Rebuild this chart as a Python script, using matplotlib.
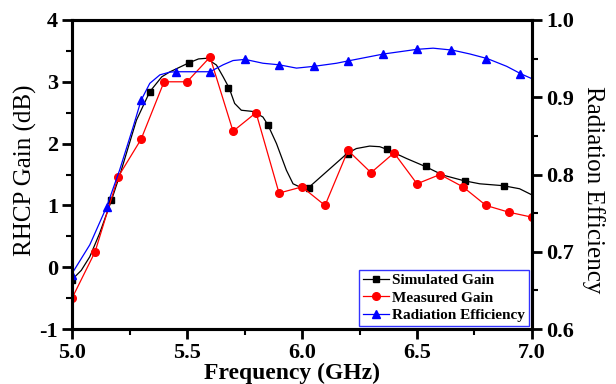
import matplotlib
matplotlib.use('Agg')
import matplotlib.pyplot as plt
from matplotlib.lines import Line2D
from matplotlib.ticker import MultipleLocator

# simulated gain: traced curve + marker points
sim_curve_f = [5.0, 5.04, 5.077, 5.12, 5.171, 5.21, 5.28, 5.338, 5.39, 5.425, 5.51, 5.55,
               5.584, 5.628, 5.657, 5.683, 5.707, 5.736, 5.787, 5.83, 5.852, 5.889, 5.932,
               5.961, 5.99, 6.026, 6.196, 6.236, 6.294, 6.338, 6.367, 6.454, 6.536, 6.613,
               6.704, 6.773, 6.874, 6.946, 7.0]
sim_curve_g = [-0.2, -0.05, 0.17, 0.55, 1.08, 1.52, 2.38, 2.84, 3.08, 3.16, 3.31, 3.37,
               3.38, 3.27, 3.08, 2.90, 2.65, 2.54, 2.52, 2.43, 2.30, 2.0, 1.57,
               1.35, 1.30, 1.28, 1.84, 1.92, 1.96, 1.95, 1.91, 1.76, 1.63, 1.49,
               1.40, 1.35, 1.32, 1.27, 1.17]
sim_f = [5.0, 5.17, 5.34, 5.51, 5.68, 5.85, 6.03, 6.20, 6.37, 6.54, 6.71, 6.88]
sim_g = [-0.2, 1.08, 2.84, 3.31, 2.90, 2.30, 1.28, 1.84, 1.91, 1.64, 1.39, 1.32]

# measured gain
meas_f = [5.0, 5.1, 5.2, 5.3, 5.4, 5.5, 5.6, 5.7, 5.8, 5.9, 6.0, 6.1, 6.2, 6.3, 6.4,
          6.5, 6.6, 6.7, 6.8, 6.9, 7.0]
meas_g = [-0.5, 0.25, 1.46, 2.07, 3.0, 3.0, 3.4, 2.2, 2.5, 1.2, 1.3, 1.0, 1.89, 1.53,
          1.85, 1.35, 1.5, 1.3, 1.0, 0.89, 0.81]

# radiation efficiency: traced curve + marker points
eff_curve_f = [5.0, 5.077, 5.15, 5.207, 5.266, 5.30, 5.338, 5.382, 5.425, 5.45, 5.60,
               5.657, 5.70, 5.752, 5.83, 5.90, 5.976, 6.052, 6.15, 6.20, 6.355, 6.50,
               6.57, 6.654, 6.73, 6.806, 6.89, 6.954, 7.0]
eff_curve_v = [0.672, 0.709, 0.758, 0.806, 0.862, 0.896, 0.918, 0.929, 0.9325, 0.933, 0.933,
               0.942, 0.9475, 0.949, 0.944, 0.942, 0.9377, 0.940, 0.944, 0.947, 0.956, 0.962,
               0.9635, 0.961, 0.956, 0.950, 0.940, 0.930, 0.924]
eff_f = [5.0, 5.15, 5.30, 5.45, 5.60, 5.75, 5.90, 6.05, 6.20, 6.35, 6.50, 6.65, 6.80, 6.95]
eff_v = [0.670, 0.758, 0.896, 0.933, 0.933, 0.949, 0.942, 0.940, 0.947, 0.956, 0.962,
         0.961, 0.950, 0.930]

labels = ['Simulated Gain', 'Measured Gain', 'Radiation Efficiency']

plt.rcParams['font.family'] = 'Liberation Serif'
plt.rcParams['axes.unicode_minus'] = False

fig = plt.figure(figsize=(6.16, 3.84), dpi=100)
ax = fig.add_axes([0.117, 0.143, 0.7466, 0.805])
ax2 = ax.twinx()

ax.plot(sim_curve_f, sim_curve_g, color='black', lw=0.9, zorder=2)
ax.plot(sim_f, sim_g, 's', color='black', ms=5, zorder=3)
ax.plot(meas_f, meas_g, '-o', color='red', lw=0.9, ms=5.5, zorder=4)
ax2.plot(eff_curve_f, eff_curve_v, color='blue', lw=0.9)
ax2.plot(eff_f, eff_v, '^', color='blue', ms=6)

ax.set_xlim(5.0, 7.0)
ax.set_ylim(-1, 4)
ax2.set_ylim(0.6, 1.0)
ax.xaxis.set_major_locator(MultipleLocator(0.5))
ax.xaxis.set_minor_locator(MultipleLocator(0.25))
ax.yaxis.set_major_locator(MultipleLocator(1))
ax.yaxis.set_minor_locator(MultipleLocator(0.5))
ax2.yaxis.set_major_locator(MultipleLocator(0.1))
ax2.yaxis.set_minor_locator(MultipleLocator(0.05))
ax.xaxis.set_major_formatter('{x:.1f}')
ax2.yaxis.set_major_formatter('{x:.1f}')

for a in (ax, ax2):
    for s in a.spines.values():
        s.set_linewidth(2.2)
    a.tick_params(which='major', direction='out', length=7, width=2, labelsize=16, pad=3)
    a.tick_params(which='minor', direction='out', length=4, width=1.5)
    for t in a.get_xticklabels() + a.get_yticklabels():
        t.set_fontweight('bold')

ax.set_xlabel('Frequency (GHz)', fontsize=17, fontweight='bold')
ax.set_ylabel('RHCP Gain (dB)', fontsize=18)
ax2.set_ylabel('Radiation Efficiency', fontsize=18, rotation=270)
ax.xaxis.set_label_coords(0.478, -0.143)
ax.yaxis.set_label_coords(-0.102, 0.515)
ax2.yaxis.set_label_coords(1.133, 0.45)
for lab in (ax.xaxis.label, ax.yaxis.label, ax2.yaxis.label):
    lab.set_va('center')
    lab.set_ha('center')

handles = [Line2D([], [], color='black', lw=0.9, marker='s', ms=5),
           Line2D([], [], color='red', lw=0.9, marker='o', ms=5.5),
           Line2D([], [], color='blue', lw=0.9, marker='^', ms=6)]
leg = ax2.legend(handles, labels, loc='lower right', fancybox=False, numpoints=1,
                 prop={'size': 11, 'weight': 'bold'}, handlelength=1.7, handletextpad=0.2,
                 labelspacing=0.25, borderpad=0.25, borderaxespad=0.2)
leg.get_frame().set_edgecolor('blue')
leg.get_frame().set_linewidth(1.0)

fig.savefig('out.png', dpi=100)
